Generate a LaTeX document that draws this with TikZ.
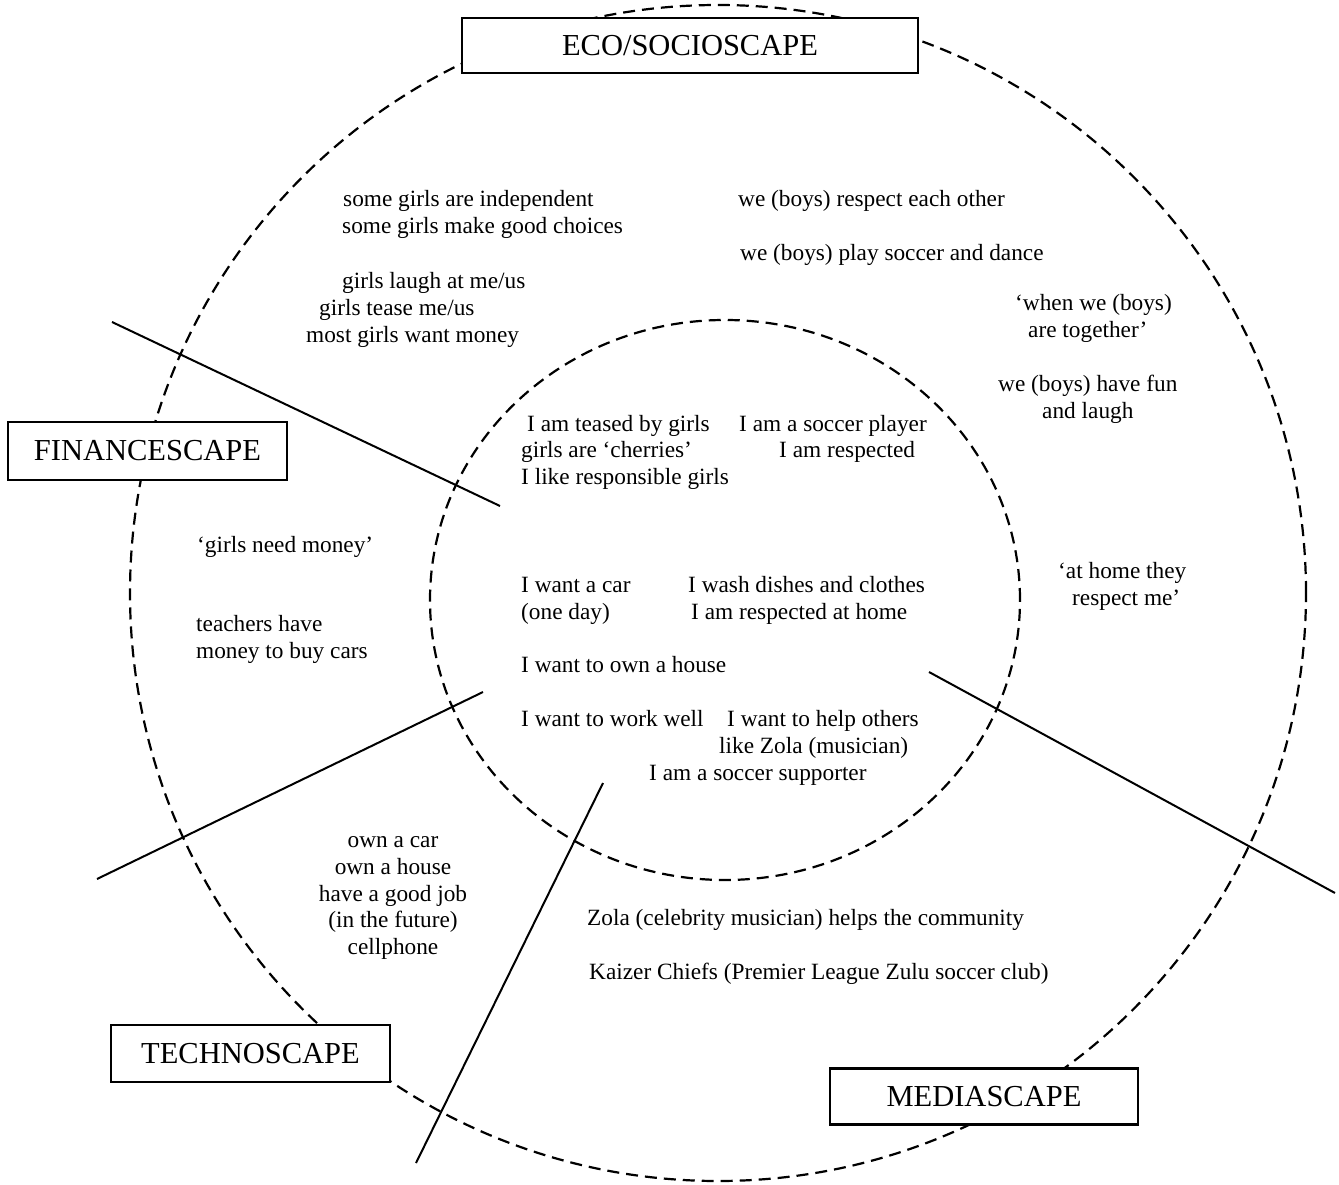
\documentclass[tikz,border=0pt]{standalone}
\usepackage{fontspec}
\setmainfont{Liberation Serif}
\begin{document}
\begin{tikzpicture}[x=1pt,y=-1pt,
  ring/.style={dash pattern=on 12pt off 7pt, line width=2.2pt},
  divider/.style={line width=2pt},
  scapebox/.style={draw, line width=2.4pt, fill=white, inner sep=0pt,
    font=\fontsize{30.5}{36}\selectfont},
  say/.style={anchor=base west, inner sep=0pt, font=\fontsize{23.3}{27}\selectfont},
  saymid/.style={anchor=base, inner sep=0pt, font=\fontsize{23.3}{27}\selectfont}]
\useasboundingbox (0,0) rectangle (1339,1185);

% the two rings
\draw[ring] (718,593) circle [radius=588pt];
\draw[ring] (725,600) ellipse [x radius=295pt, y radius=280pt];

% dividers between the four scapes
\coordinate (d1a) at (112,322);  \coordinate (d1b) at (500,506);
\coordinate (d2a) at (97,879);   \coordinate (d2b) at (483,692);
\coordinate (d3a) at (416,1163); \coordinate (d3b) at (603,783);
\coordinate (d4a) at (929,672);  \coordinate (d4b) at (1335,893);
\draw[divider] (d1a) -- (d1b);
\draw[divider] (d2a) -- (d2b);
\draw[divider] (d3a) -- (d3b);
\draw[divider] (d4a) -- (d4b);

% scape labels
\node[scapebox, minimum width=456pt, minimum height=55pt] (eco) at (690,45.5) {ECO/SOCIOSCAPE};
\node[scapebox, minimum width=279pt, minimum height=58pt] (finance) at (147.5,451) {FINANCESCAPE};
\node[scapebox, minimum width=279pt, minimum height=57pt] (techno) at (250.5,1053.5) {TECHNOSCAPE};
\node[scapebox, minimum width=308pt, minimum height=56pt] (media) at (984,1096.5) {MEDIASCAPE};

% eco/socioscape
\node[say] (e1) at (343,207) {some girls are independent};
\node[say] (e2) at (342,234) {some girls make good choices};
\node[say] (e3) at (342,288) {girls laugh at me/us};
\node[say] (e4) at (319,315) {girls tease me/us};
\node[say] (e5) at (306,342) {most girls want money};
\node[say] (e6) at (738,207) {we (boys) respect each other};
\node[say] (e7) at (740,261) {we (boys) play soccer and dance};
\node[say] (e8) at (1015,310) {‘when we (boys)};
\node[say] (e9) at (1028,337) {are together’};
\node[say] (e10) at (998,391) {we (boys) have fun};
\node[say] (e11) at (1042,418) {and laugh};

% inner circle
\node[say] (i1) at (527,431) {I am teased by girls};
\node[say] (i2) at (521,457) {girls are ‘cherries’};
\node[say] (i3) at (521,484) {I like responsible girls};
\node[say] (i4) at (739,431) {I am a soccer player};
\node[say] (i5) at (779,457) {I am respected};
\node[say] (i6) at (521,592) {I want a car};
\node[say] (i7) at (521,619) {(one day)};
\node[say] (i8) at (688,592) {I wash dishes and clothes};
\node[say] (i9) at (691,619) {I am respected at home};
\node[say] (i10) at (521,672) {I want to own a house};
\node[say] (i11) at (521,726) {I want to work well};
\node[say] (i12) at (727,726) {I want to help others};
\node[say] (i13) at (719,753) {like Zola (musician)};
\node[say] (i14) at (649,780) {I am a soccer supporter};

% financescape
\node[say] (f1) at (197,552) {‘girls need money’};
\node[say] (f2) at (196,631) {teachers have};
\node[say] (f3) at (196,658) {money to buy cars};

% right side
\node[say] (r1) at (1058,578) {‘at home they};
\node[say] (r2) at (1072,605) {respect me’};

% technoscape
\node[saymid] (t1) at (393,847) {own a car};
\node[saymid] (t2) at (393,874) {own a house};
\node[saymid] (t3) at (393,901) {have a good job};
\node[saymid] (t4) at (393,927) {(in the future)};
\node[saymid] (t5) at (393,954) {cellphone};

% mediascape
\node[say] (m1) at (587,925) {Zola (celebrity musician) helps the community};
\node[say] (m2) at (589,979) {Kaizer Chiefs (Premier League Zulu soccer club)};
\end{tikzpicture}
\end{document}
